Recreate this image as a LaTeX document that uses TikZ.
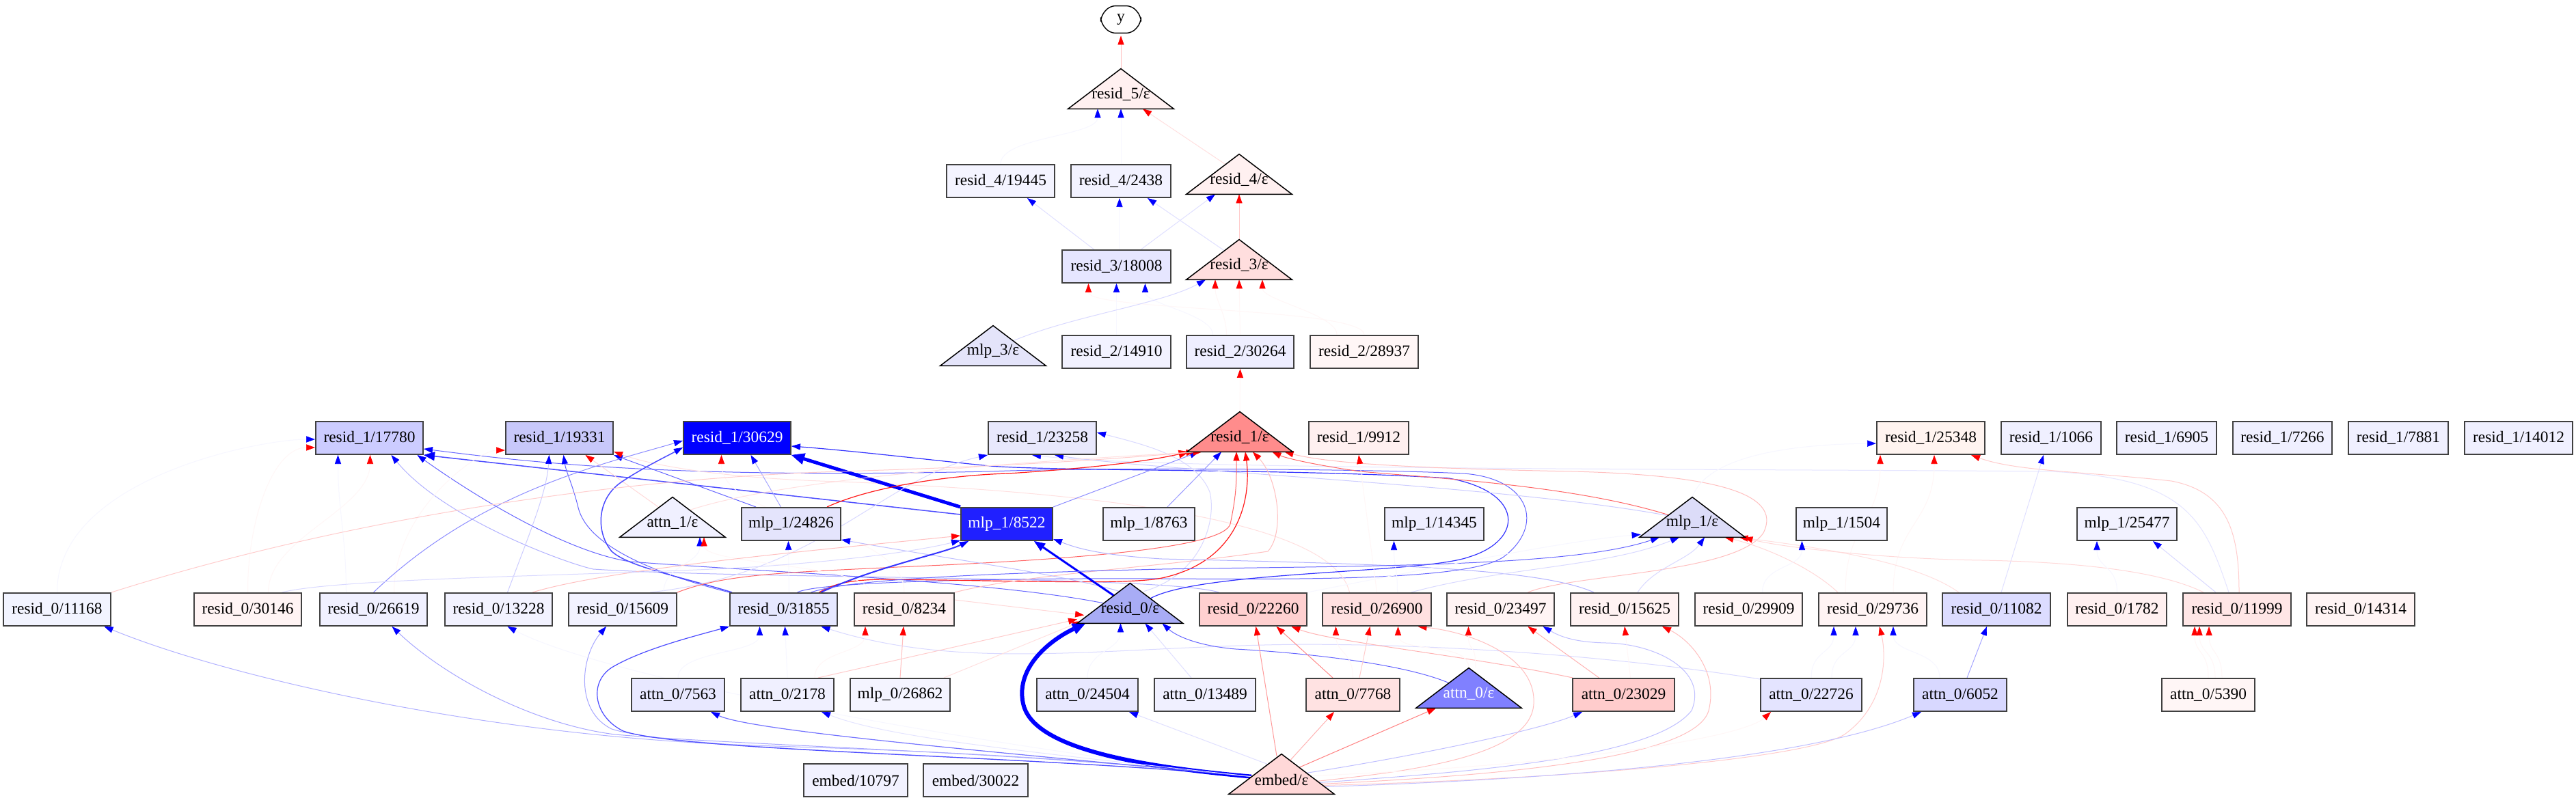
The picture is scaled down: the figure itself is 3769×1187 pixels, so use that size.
\documentclass[tikz,border=0pt]{standalone}
\usepackage{fontspec}
\setmainfont{Liberation Serif}
\usetikzlibrary{arrows.meta,calc}
\pgfdeclarelayer{bg}
\pgfsetlayers{bg,main}
\newcommand\nfs{\fontsize{11.7pt}{14pt}\selectfont}
\tikzset{
 box/.style={draw=black!75, line width=1pt, minimum height=24pt, inner sep=0pt, font=\nfs},
 tribox/.style={minimum width=77pt, minimum height=29pt, inner sep=0pt, draw=none},
 lbl/.style={inner sep=0pt, font=\nfs},
 eb/.style={draw=blue!#1, line width=0.5pt, -{Triangle[length=6.5pt,width=4.6pt,line width=0.3pt,color=blue]}},
 er/.style={draw=red!#1, line width=0.5pt, -{Triangle[length=6.5pt,width=4.6pt,line width=0.3pt,color=red]}},
 bigb/.style={-{Triangle[length=8pt,width=6.5pt,line width=0.3pt,color=blue]}},
 hugeb/.style={-{Triangle[length=9.5pt,width=8.5pt,line width=0.3pt,color=blue]}},
 bigr/.style={-{Triangle[length=7.5pt,width=6pt,line width=0.3pt,color=red]}},
}
\newcommand\bx[5]{\definecolor{bxc}{HTML}{#4}\node[box, minimum width=#3, fill=bxc] (#1) at (#2) {#5};}
\newcommand\tri[4]{\definecolor{trc}{HTML}{#3}%
 \node[tribox] (#1) at (#2) {};
 \filldraw[fill=trc, draw=black, line width=0.75pt, line join=miter] (#1.north) -- (#1.south east) -- (#1.south west) -- cycle;
 \node[lbl] (#1-t) at ([yshift=-4pt]#1.center) {#4};}
\begin{document}
\begin{tikzpicture}[x=0.5pt,y=-0.5pt]
\useasboundingbox (0,0) rectangle (3769,1187);
% ---------- nodes ----------
\node[minimum width=29pt, minimum height=19.5pt, inner sep=0pt, font=\nfs] (ny) at (1640,28.5) {y};
\draw[line width=0.7pt, rounded corners=4pt] ($(ny.north west)+(13,0)$) -- ($(ny.north east)+(-13,0)$) -- ($(ny.north east)+(0,15)$) -- ($(ny.south east)+(0,-15)$) -- ($(ny.south east)+(-13,0)$) -- ($(ny.south west)+(13,0)$) -- ($(ny.south west)+(0,-15)$) -- ($(ny.north west)+(0,15)$) -- cycle;
\tri{r5e}{1640,130}{FFF0F0}{resid\_5/ε}
\bx{r4a}{1464,265}{79pt}{F4F4FF}{resid\_4/19445}
\bx{r4b}{1640,265}{73pt}{F2F2FF}{resid\_4/2438}
\tri{r4e}{1813,255}{FFF0F0}{resid\_4/ε}
\bx{r3a}{1633.5,390}{79.5pt}{E6E6FF}{resid\_3/18008}
\tri{r3e}{1813,380}{FFDEDE}{resid\_3/ε}
\tri{m3e}{1453,506}{E4E4FA}{mlp\_3/ε}
\bx{r2a}{1633.5,515}{79.5pt}{F2F2FF}{resid\_2/14910}
\bx{r2b}{1814.5,515}{78.5pt}{EEEEFF}{resid\_2/30264}
\bx{r2c}{1996,515}{79pt}{FFF6F6}{resid\_2/28937}
% row 1
\bx{r1a}{540.5,641}{78.5pt}{CCCCFF}{resid\_1/17780}
\bx{r1b}{818.5,641}{78.5pt}{C8C8FA}{resid\_1/19331}
\bx{r1c}{1078.5,641}{78.5pt}{0000FF}{\textcolor{white}{resid\_1/30629}}
\bx{r1d}{1525,641}{79pt}{E8E8FC}{resid\_1/23258}
\tri{r1e}{1814,632}{FF8C8C}{resid\_1/ε}
\bx{r1f}{1988,641}{73pt}{FFF0F0}{resid\_1/9912}
\bx{r1g}{2825,641}{79pt}{FFF4F0}{resid\_1/25348}
\bx{r1h}{3001,641}{73pt}{F0F0FF}{resid\_1/1066}
\bx{r1i}{3170,641}{73pt}{F0F0FF}{resid\_1/6905}
\bx{r1j}{3339.5,641}{72.5pt}{F0F0FF}{resid\_1/7266}
\bx{r1k}{3509,641}{73pt}{F0F0FF}{resid\_1/7881}
\bx{r1l}{3685,641}{79pt}{F0F0FF}{resid\_1/14012}
% mlp/attn 1 row
\tri{a1e}{984,757}{F0F0FF}{attn\_1/ε}
\bx{m1a}{1157.5,767}{72.5pt}{E4E4FC}{mlp\_1/24826}
\bx{m1b}{1473,767}{67pt}{2020FF}{\textcolor{white}{mlp\_1/8522}}
\bx{m1c}{1681,767}{67pt}{F0F0FF}{mlp\_1/8763}
\bx{m1d}{2098.5,767}{72.5pt}{EEEEFF}{mlp\_1/14345}
\tri{m1e}{2476,757}{DCDCF8}{mlp\_1/ε}
\bx{m1f}{2694.5,767}{66.5pt}{F2F2FF}{mlp\_1/1504}
\bx{m1g}{3112,767}{73pt}{F2F2FF}{mlp\_1/25477}
% row 0
\bx{r0a}{83.5,892}{78.5pt}{F2F4FF}{resid\_0/11168}
\bx{r0b}{362.5,892}{78.5pt}{FFF4F4}{resid\_0/30146}
\bx{r0c}{546.5,892}{78.5pt}{F0F0FF}{resid\_0/26619}
\bx{r0d}{729.5,892}{78.5pt}{F2F2FF}{resid\_0/13228}
\bx{r0e}{911,892}{79pt}{F2F2FF}{resid\_0/15609}
\bx{r0f}{1146.5,892}{78.5pt}{E6E8FF}{resid\_0/31855}
\bx{r0g}{1323,892}{73pt}{FFF0F0}{resid\_0/8234}
\tri{r0eps}{1653.5,883}{A8ACF5}{resid\_0/ε}
\bx{r0h}{1833.5,892}{78.5pt}{FFD0D0}{resid\_0/22260}
\bx{r0i}{2014.5,892}{79.5pt}{FFE0E0}{resid\_0/26900}
\bx{r0j}{2195.5,892}{78.5pt}{FFF4F4}{resid\_0/23497}
\bx{r0k}{2377,892}{79pt}{FFF2F2}{resid\_0/15625}
\bx{r0l}{2558.5,892}{78.5pt}{FFF6F6}{resid\_0/29909}
\bx{r0m}{2740,892}{79pt}{FFF4F4}{resid\_0/29736}
\bx{r0n}{2921,892}{79pt}{DCDCFF}{resid\_0/11082}
\bx{r0o}{3097.5,892}{72.5pt}{FFF0F0}{resid\_0/1782}
\bx{r0p}{3273,892}{79pt}{FFE6E6}{resid\_0/11999}
\bx{r0q}{3454,892}{79pt}{FFF4F4}{resid\_0/14314}
% attn 0 row
\bx{a0a}{992,1017}{68pt}{E8E8FF}{attn\_0/7563}
\bx{a0b}{1152,1017}{68pt}{F0F0FF}{attn\_0/2178}
\bx{m0a}{1317,1017}{73pt}{F4F4FF}{mlp\_0/26862}
\bx{a0c}{1591,1017}{74pt}{E8E8FF}{attn\_0/24504}
\bx{a0d}{1763,1017}{74pt}{F0F0FF}{attn\_0/13489}
\bx{a0e}{1979.5,1017}{68.5pt}{FFE2E2}{attn\_0/7768}
\tri{a0eps}{2149,1007}{8080FF}{\textcolor{white}{attn\_0/ε}}
\bx{a0f}{2375.5,1017}{74.5pt}{FFCCCC}{attn\_0/23029}
\bx{a0g}{2650,1017}{74pt}{E4E4FF}{attn\_0/22726}
\bx{a0h}{2868,1017}{68pt}{D8D8FF}{attn\_0/6052}
\bx{a0i}{3231,1017}{68pt}{FFF6F6}{attn\_0/5390}
% embed row
\bx{em1}{1252,1142}{76pt}{F2F2FF}{embed/10797}
\bx{em2}{1427.5,1142}{76.5pt}{F2F2FF}{embed/30022}
\tri{emE}{1875,1133}{FFD8D8}{embed/ε}
% ---------- edges ----------
\begin{pgfonlayer}{bg}
\fill[white] (0,0) rectangle (3769,1187);
% top
\draw[er=25] (r5e.north) -- ($(ny.south)+(0,4)$);
\draw[er=12] ($(r4e.north)+(-20,15)$) -- ($(r5e.south)+(32,0)$);
\draw[eb=3] (r4a.north) .. controls +(0,-40) and +(0,40) .. ($(r5e.south)+(-34,0)$);
\draw[eb=3] (r4b.north) -- (r5e.south);
\draw[eb=12] ($(r3a.north)+(-33,0)$) -- ($(r4a.south)+(39,0)$);
\draw[eb=3] ($(r3a.north)+(4,0)$) -- ($(r4b.south)+(-2,0)$);
\draw[eb=12] ($(r3e.north)+(-22,16)$) -- ($(r4b.south)+(39,0)$);
\draw[eb=12] ($(r3a.north)+(36,0)$) -- ($(r4e.south)+(-35,0)$);
\draw[er=20] (r3e.north) -- (r4e.south);
\draw[er=3] (r2c.north) .. controls +(0,-40) and +(0,40) .. ($(r3a.south)+(-41,0)$);
\draw[eb=3] (r2a.north) -- (r3a.south);
\draw[eb=3] ($(r2b.north)+(-40,0)$) .. controls +(0,-30) and +(0,30) .. ($(r3a.south)+(42,0)$);
\draw[eb=15] ($(m3e.north)+(30,22)$) .. controls (1570,462) and (1700,445) .. ($(r3e.south)+(-49,0)$);
\draw[er=3] ($(r2b.north)+(-20,0)$) .. controls +(0,-30) and +(0,30) .. ($(r3e.south)+(-35,0)$);
\draw[er=3] (r2b.north) -- (r3e.south);
\draw[er=3] ($(r2c.north)+(-40,0)$) .. controls +(0,-30) and +(0,30) .. ($(r3e.south)+(34,0)$);
\draw[er=3] (r1e.north) -- (r2b.south);
% into resid_1/17780
\draw[eb=3] (r0a.north) .. controls (84,700) and (380,643) .. ($(r1a.west)+(0,2)$);
\draw[er=3] (r0b.north) .. controls (362,760) and (400,655) .. ($(r1a.west)+(0,14)$);
\draw[eb=3] ($(r0c.north)+(-40,0)$) .. controls +(0,-80) and +(0,80) .. ($(r1a.south)+(-46,0)$);
\draw[er=3] ($(r0b.north)+(30,0)$) .. controls +(0,-80) and +(0,80) .. ($(r1a.south)+(1,0)$);
\draw[eb=30] ($(r0h.north)+(-50,0)$) .. controls (1700,842) and (1100,848) .. (868,833) .. controls (830,825) and (650,760) .. ($(r1a.south)+(32,0)$);
\draw[eb=60] ($(r0eps.north)+(-40,29)$) .. controls (1450,850) and (1100,836) .. (922,822) .. controls (830,808) and (700,730) .. ($(r1a.south)+(70,0)$);
\draw[eb=70, line width=0.75pt, bigb] ($(m1b.west)+(0,-14)$) -- (r1a.south east);
\draw[eb=60] ($(r0f.north)+(20,0)$) .. controls (1200,850) and (1500,846) .. (1700,847) .. controls (1900,848) and (2150,850) .. (2200,815) .. controls (2260,770) and (2240,700) .. (2141,693) .. controls (2000,686) and (1600,684) .. (1448,690) .. controls (1000,700) and (800,680) .. ($(r1a.east)+(0,16)$);
% into resid_1/19331
\draw[er=3] ($(r0c.north)+(30,0)$) .. controls +(0,-120) and (700,659) .. ($(r1b.west)+(0,18)$);
\draw[eb=20] ($(r0d.north)+(13,0)$) .. controls (775,780) and (800,720) .. ($(r1b.south)+(-15,0)$);
\draw[eb=60] (r0f.north west) .. controls (960,840) and (860,800) .. (846,743) .. controls (838,710) and (828,690) .. ($(r1b.south)+(6,0)$);
\draw[er=15] ($(a1e.north)+(-20,15)$) -- ($(r1b.south)+(38,0)$);
\draw[eb=60] ($(m1a.north west)+(22,0)$) -- (r1b.south east);
\draw[er=12] ($(r0i.north)+(-40,0)$) .. controls (1950,760) and (1600,720) .. (1230,705) .. controls (1050,700) and (950,680) .. ($(r1b.east)+(0,20)$);
% into resid_1/30629
\draw[eb=100, line width=2.5pt, hugeb] (m1b.north west) -- (r1c.south east);
\draw[eb=70, line width=0.75pt] ($(r0f.north west)+(4,0)$) .. controls (1000,845) and (920,830) .. (895,807) .. controls (872,780) and (872,730) .. (910,705) .. controls (940,685) and (975,668) .. ($(r1c.west)+(0,14)$);
\draw[eb=45] (r0c.north) .. controls (700,720) and (880,680) .. ($(r1c.west)+(0,4)$);
\draw[eb=35] ($(m1a.north)+(-15,0)$) -- ($(r1c.south)+(20,0)$);
\draw[er=3] (r0g.north) .. controls +(0,-100) and +(0,100) .. ($(r1c.south)+(-23,0)$);
\draw[eb=80, line width=0.6pt] ($(r0eps.north)+(30,22)$) .. controls (1760,835) and (2080,840) .. (2150,815) .. controls (2230,790) and (2230,720) .. (2120,700) .. controls (1900,686) and (1550,690) .. (1448,682) .. controls (1350,672) and (1250,660) .. ($(r1c.east)+(0,12)$);
% into resid_1/23258
\draw[eb=15] ($(r0e.north)+(40,0)$) .. controls (1200,840) and (1290,700) .. (r1d.south west);
\draw[eb=10] ($(r0p.north west)+(68,0)$) .. controls (3225,760) and (3200,700) .. (3000,690) .. controls (2500,686) and (1700,688) .. ($(r1d.south)+(-15,0)$);
\draw[eb=20] ($(m1e.north)+(-36,27)$) .. controls (2200,710) and (1700,690) .. ($(r1d.south)+(18,0)$);
\draw[eb=15] ($(r0eps.north)+(20,12)$) .. controls (1760,840) and (1780,760) .. (1770,720) .. controls (1750,670) and (1680,652) .. ($(r1d.east)+(0,-8)$);
% into resid_1/eps
\draw[er=90, line width=0.6pt, bigr] ($(m1a.north east)+(-21,0)$) .. controls (1280,710) and (1400,695) .. (1475,693) .. controls (1600,685) and (1680,675) .. ($(r1e.south west)+(3,0)$);
\draw[eb=45] (m1b.north east) -- ($(r1e.south)+(-60,0)$);
\draw[eb=40] ($(m1c.north)+(27,0)$) -- ($(r1e.south)+(-27,0)$);
\draw[er=90, line width=0.6pt] ($(r0f.north)+(52,0)$) .. controls (1220,855) and (1240,848) .. (1300,848) .. controls (1500,850) and (1650,856) .. (1700,846) .. controls (1820,820) and (1830,720) .. ($(r1e.south)+(8,0)$);
\draw[er=60] (r0e.north east) .. controls (1060,840) and (1150,838) .. (1313,830) .. controls (1600,818) and (1790,800) .. (1800,767) .. controls (1810,720) and (1809,700) .. ($(r1e.south)+(-5,0)$);
\draw[er=25] (r0g.north east) .. controls (1500,840) and (1700,830) .. (1855,807) .. controls (1880,780) and (1870,700) .. ($(r1e.south)+(19,0)$);
\draw[er=60] ($(m1e.north)+(-35,26)$) .. controls (2300,710) and (2100,700) .. (1990,690) .. controls (1920,680) and (1880,670) .. ($(r1e.south east)+(-30,0)$);
\draw[er=25] ($(r0j.north)+(40,0)$) .. controls (2300,840) and (2540,840) .. (2580,780) .. controls (2610,720) and (2500,695) .. (2300,690) .. controls (2100,686) and (1950,680) .. ($(r1e.south east)+(-12,0)$);
\draw[er=20] (r0a.north east) .. controls (500,760) and (900,700) .. (1230,690) .. controls (1500,682) and (1650,670) .. ($(r1e.south west)+(12,0)$);
\draw[er=12] ($(a1e.north)+(25,19)$) .. controls (1150,700) and (1500,675) .. ($(r1e.south west)+(22,0)$);
% other row 1 targets
\draw[er=3] (r0i.north) -- (r1f.south);
\draw[eb=3] (m1e.north) .. controls (2500,660) and (2650,650) .. ($(r1g.west)+(0,8)$);
\draw[er=3] ($(r0m.north)+(-40,0)$) .. controls +(0,-100) and +(0,100) .. ($(r1g.south west)+(6,0)$);
\draw[er=3] ($(r0m.north)+(30,0)$) .. controls +(0,-100) and +(0,100) .. ($(r1g.south)+(5,0)$);
\draw[er=20] ($(r0p.north)+(3,0)$) .. controls (3276,780) and (3260,720) .. (3177,704) .. controls (3050,690) and (2950,690) .. ($(r1g.south)+(59,0)$);
\draw[eb=12] ($(r0n.north)+(7,0)$) -- ($(r1h.south)+(-11,0)$);
% mlp / attn 1 row targets
\draw[eb=3] ($(r0e.north)+(60,0)$) .. controls +(0,-40) and +(0,40) .. ($(a1e.south)+(40,0)$);
\draw[er=3] ($(r0g.north)+(-50,0)$) .. controls +(0,-40) and +(0,40) .. ($(a1e.south)+(46,0)$);
\draw[eb=3] ($(r0f.north)+(8,0)$) -- ($(m1a.south)+(-4,0)$);
\draw[eb=25] ($(r0eps.north)+(-15,12)$) .. controls (1550,840) and (1400,820) .. ($(m1a.south east)+(0,-2)$);
\draw[er=25] ($(r0d.north east)+(-30,0)$) .. controls (900,830) and (1250,800) .. ($(m1b.south west)+(0,-8)$);
\draw[eb=15] ($(r0b.north)+(50,0)$) .. controls (500,845) and (900,842) .. (1100,830) .. controls (1250,820) and (1350,805) .. ($(m1b.south west)+(0,-1)$);
\draw[eb=80, line width=1pt] ($(r0f.north east)+(-25,0)$) .. controls (1280,830) and (1380,810) .. ($(m1b.south west)+(12,0)$);
\draw[eb=100, line width=1.5pt, bigb] ($(r0eps.north)+(-24,18)$) -- ($(m1b.south)+(40,0)$);
\draw[eb=30] ($(r0k.north west)+(35,0)$) .. controls (2250,830) and (2000,825) .. (1700,818) .. controls (1600,812) and (1570,800) .. ($(m1b.south east)+(0,-3)$);
\draw[eb=3] ($(r0i.north)+(30,0)$) .. controls +(0,-40) and +(0,40) .. ($(m1d.south)+(-59,0)$);
\draw[eb=60] ($(r0f.north)+(40,0)$) .. controls (1250,845) and (1500,838) .. (1700,833) .. controls (2000,828) and (2300,830) .. ($(m1e.south)+(-48,0)$);
\draw[eb=15] ($(r0i.north)+(50,0)$) .. controls (2200,830) and (2350,830) .. ($(m1e.south)+(-19,0)$);
\draw[eb=15] ($(r0k.north)+(19,0)$) .. controls (2420,830) and (2470,820) .. ($(m1e.south)+(18,0)$);
\draw[er=15] ($(r0m.north west)+(29,0)$) .. controls (2650,830) and (2580,800) .. ($(m1e.south east)+(-30,0)$);
\draw[er=12] ($(r0n.north west)+(25,0)$) .. controls (2800,820) and (2650,800) .. ($(m1e.south east)+(-9,0)$);
\draw[er=15] ($(r0p.north west)+(31,0)$) .. controls (3150,830) and (3000,822) .. (2900,820) .. controls (2750,818) and (2600,800) .. ($(m1e.south east)+(-2,0)$);
\draw[eb=3] (r0h.north east) .. controls (2100,830) and (2300,790) .. ($(m1e.south west)+(2,-4)$);
\draw[eb=3] ($(r0l.north)+(20,0)$) .. controls +(0,-40) and +(0,40) .. ($(m1f.south)+(-58,0)$);
\draw[eb=3] (r0o.north) .. controls +(0,-40) and +(0,40) .. ($(m1g.south)+(-44,0)$);
\draw[eb=15] ($(r0p.north)+(-31,0)$) -- ($(m1g.south)+(38,0)$);
% row 0 targets
\draw[eb=30] ($(emE.north)+(-44,33)$) .. controls (1500,1100) and (1200,1095) .. (1078,1090) .. controls (700,1075) and (330,990) .. ($(r0a.south)+(69,0)$);
\draw[eb=35] ($(emE.north)+(-44,33)$) .. controls (1500,1100) and (1100,1092) .. (900,1075) .. controls (780,1060) and (650,990) .. ($(r0c.south)+(27,0)$);
\draw[eb=3] ($(emE.north)+(-44,33)$) .. controls (1500,1100) and (900,1000) .. ($(r0d.south)+(13,0)$);
\draw[eb=35] ($(emE.north)+(-44,33)$) .. controls (1500,1105) and (1000,1100) .. (895,1067) .. controls (840,1040) and (850,960) .. ($(r0e.south)+(-24,0)$);
\draw[eb=70, line width=0.6pt] ($(emE.north)+(-44,33)$) .. controls (1500,1105) and (1000,1100) .. (912,1070) .. controls (870,1050) and (860,1000) .. (895,977) .. controls (940,950) and (1020,930) .. (r0f.south west);
\draw[eb=3] (a0a.north) .. controls +(0,-40) and +(0,40) .. ($(r0f.south)+(-35,0)$);
\draw[eb=3] (a0b.north) -- ($(r0f.south)+(2,0)$);
\draw[eb=15] ($(a0g.north west)+(0,2)$) .. controls (2300,950) and (2000,940) .. (1850,944) .. controls (1600,950) and (1400,980) .. ($(r0f.south)+(55,0)$);
\draw[er=3] ($(a0b.north)+(40,0)$) .. controls +(0,-40) and +(0,40) .. ($(r0g.south)+(-57,0)$);
\draw[er=25] (m0a.north) -- ($(r0g.south)+(-1,0)$);
\draw[er=20] ($(a0b.north)+(45,0)$) -- ($(r0eps.south west)+(0,-6)$);
\draw[er=12] ($(m0a.north east)+(-10,0)$) -- ($(r0eps.south west)+(6,-3)$);
\draw[er=15] ($(r0g.east)+(0,-14)$) -- ($(r0eps.south west)+(10,-12)$);
\draw[eb=100, line width=3pt, hugeb] ($(emE.north)+(-44,33)$) .. controls (1640,1120) and (1510,1090) .. (1497,1030) .. controls (1485,975) and (1540,935) .. ($(r0eps.south west)+(12,0)$);
\draw[eb=3] (a0c.north) .. controls +(0,-40) and +(0,40) .. ($(r0eps.south)+(-14,0)$);
\draw[eb=12] ($(a0d.north)+(-20,0)$) -- ($(r0eps.south)+(22,0)$);
\draw[eb=60] ($(a0eps.north)+(-29,22)$) .. controls (2050,970) and (1900,955) .. (1808,950) .. controls (1750,945) and (1720,930) .. ($(r0eps.south)+(47,0)$);
\draw[er=40] ($(emE.north)+(-7,3)$) -- ($(r0h.south)+(4,0)$);
\draw[er=45] ($(a0e.north west)+(40,0)$) -- ($(r0h.south)+(34,0)$);
\draw[er=30] ($(a0f.north west)+(1,0)$) .. controls (2150,960) and (1950,940) .. ($(r0h.south)+(56,0)$);
\draw[er=3] (a0e.north) .. controls +(0,-40) and +(0,40) .. ($(r0i.south)+(-60,0)$);
\draw[er=20] ($(a0e.north east)+(-60,0)$) -- ($(r0i.south)+(-10,0)$);
\draw[er=3] (a0eps.north) .. controls +(0,-40) and +(0,40) .. ($(r0i.south)+(31,0)$);
\draw[er=25] ($(emE.north)+(50,40)$) .. controls (2050,1130) and (2240,1110) .. (2244,1030) .. controls (2248,960) and (2150,925) .. ($(r0i.south)+(60,0)$);
\draw[er=3] ($(a0eps.north)+(10,0)$) .. controls +(0,-40) and +(0,40) .. ($(r0j.south)+(-47,0)$);
\draw[er=30] ($(a0f.north)+(-36,0)$) -- ($(r0j.south)+(40,0)$);
\draw[eb=25] ($(emE.north)+(52,42)$) .. controls (2150,1130) and (2420,1110) .. (2475,1040) .. controls (2500,980) and (2420,942) .. (2350,941) .. controls (2300,940) and (2280,930) .. ($(r0j.south)+(62,0)$);
\draw[er=3] ($(a0f.north)+(10,0)$) -- (r0k.south);
\draw[er=25] ($(emE.north)+(54,44)$) .. controls (2200,1135) and (2480,1110) .. (2500,1040) .. controls (2515,980) and (2470,935) .. ($(r0k.south)+(55,0)$);
\draw[eb=3] (a0g.north) .. controls +(0,-40) and +(0,40) .. ($(r0m.south)+(-57,0)$);
\draw[eb=3] ($(a0g.north)+(30,0)$) .. controls +(0,-40) and +(0,40) .. ($(r0m.south)+(-25,0)$);
\draw[er=20] ($(emE.north)+(56,46)$) .. controls (2300,1140) and (2650,1110) .. (2700,1074) .. controls (2760,1030) and (2760,960) .. ($(r0m.south)+(10,0)$);
\draw[eb=3] ($(a0h.north)+(-30,0)$) .. controls +(0,-40) and +(0,40) .. ($(r0m.south)+(30,0)$);
\draw[eb=35] ($(a0h.north)+(10,0)$) -- ($(r0n.south)+(-14,0)$);
\draw[er=3] (a0i.north) .. controls +(0,-40) and +(0,40) .. ($(r0p.south)+(-62,0)$);
\draw[er=3] ($(a0i.north)+(10,0)$) .. controls +(0,-40) and +(0,40) .. ($(r0p.south)+(-55,0)$);
\draw[er=3] ($(a0i.north)+(20,0)$) .. controls +(0,-40) and +(0,40) .. ($(r0p.south)+(-41,0)$);
% attn 0 row targets
\draw[eb=55, line width=0.6pt] ($(emE.north)+(-44,33)$) .. controls (1450,1100) and (1100,1070) .. ($(a0a.south)+(48,0)$);
\draw[eb=10] ($(emE.north)+(-44,33)$) .. controls (1500,1100) and (1300,1080) .. ($(a0b.south)+(50,0)$);
\draw[eb=12] ($(emE.north)+(-20,15)$) -- ($(a0c.south)+(61,0)$);
\draw[er=30] ($(emE.north)+(12,10)$) -- ($(a0e.south west)+(42,0)$);
\draw[er=50] ($(emE.north)+(25,20)$) -- ($(a0eps.south)+(-48,0)$);
\draw[eb=25] ($(emE.north)+(35,28)$) .. controls (2050,1110) and (2250,1070) .. ($(a0f.south west)+(15,0)$);
\draw[er=3] ($(emE.north)+(40,32)$) .. controls (2300,1120) and (2550,1080) .. ($(a0g.south west)+(16,0)$);
\draw[eb=25] ($(emE.north)+(58,48)$) .. controls (2300,1140) and (2650,1110) .. ($(a0h.south west)+(12,0)$);
\end{pgfonlayer}
\end{tikzpicture}
\end{document}
